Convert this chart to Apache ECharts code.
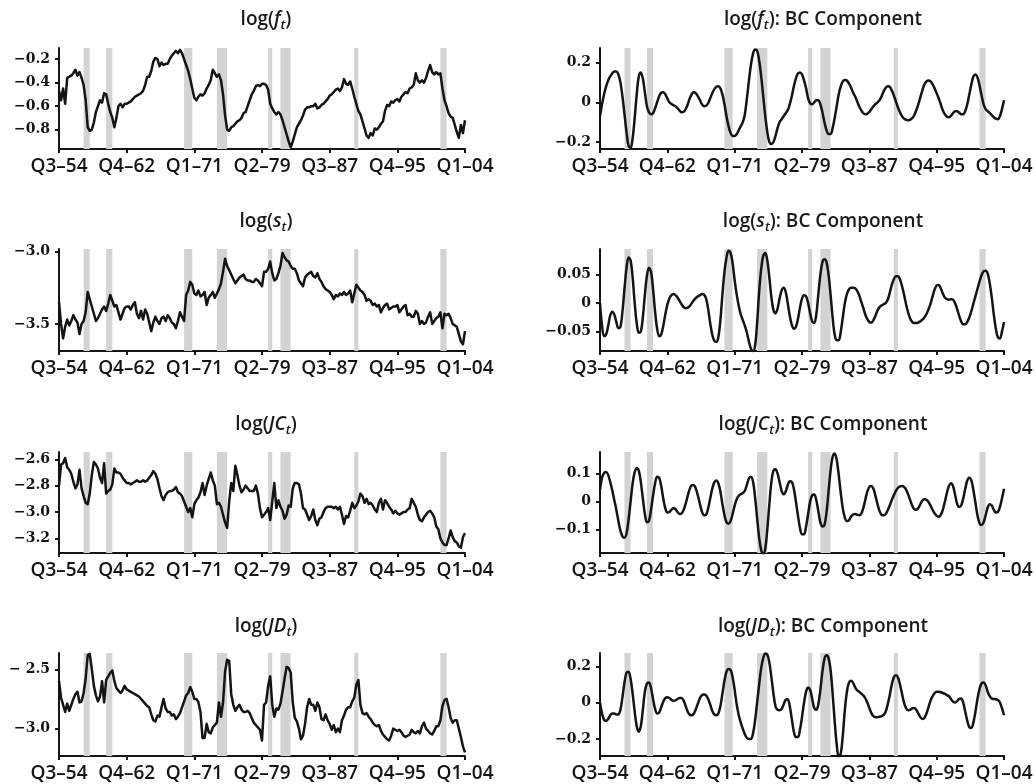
<!DOCTYPE html>
<html>
<head>
<meta charset="utf-8">
<script src="https://cdn.jsdelivr.net/npm/echarts@6/dist/echarts.min.js"></script>
<style>
  html, body { margin: 0; padding: 0; background: #ffffff; }
  #chart { width: 1036px; height: 784px; }
</style>
</head>
<body>
<div id="chart"></div>
<script>
// Quarterly series, 1954Q3 .. 2004Q1 (199 quarters)
const fLevel = [
  -0.47,-0.55,-0.45,-0.58,-0.36,-0.35,-0.34,-0.32,-0.29,-0.34,
  -0.31,-0.36,-0.42,-0.55,-0.78,-0.81,-0.80,-0.74,-0.65,-0.60,
  -0.55,-0.57,-0.49,-0.50,-0.58,-0.65,-0.70,-0.78,-0.70,-0.60,
  -0.58,-0.61,-0.58,-0.58,-0.57,-0.56,-0.54,-0.52,-0.51,-0.50,
  -0.49,-0.47,-0.42,-0.35,-0.35,-0.30,-0.22,-0.19,-0.20,-0.26,
  -0.23,-0.25,-0.24,-0.24,-0.20,-0.17,-0.15,-0.13,-0.15,-0.12,
  -0.15,-0.20,-0.25,-0.30,-0.37,-0.45,-0.53,-0.55,-0.52,-0.50,
  -0.51,-0.49,-0.45,-0.42,-0.38,-0.29,-0.32,-0.35,-0.33,-0.38,
  -0.50,-0.68,-0.80,-0.81,-0.78,-0.77,-0.75,-0.73,-0.72,-0.70,
  -0.66,-0.65,-0.60,-0.55,-0.50,-0.47,-0.43,-0.42,-0.43,-0.41,
  -0.41,-0.42,-0.46,-0.58,-0.62,-0.65,-0.67,-0.65,-0.67,-0.72,
  -0.78,-0.84,-0.90,-0.95,-0.90,-0.84,-0.78,-0.75,-0.72,-0.68,
  -0.63,-0.61,-0.61,-0.60,-0.60,-0.58,-0.62,-0.61,-0.59,-0.58,
  -0.56,-0.54,-0.51,-0.50,-0.48,-0.46,-0.45,-0.47,-0.44,-0.37,
  -0.41,-0.42,-0.39,-0.45,-0.52,-0.58,-0.64,-0.67,-0.73,-0.79,
  -0.85,-0.87,-0.83,-0.85,-0.79,-0.80,-0.78,-0.75,-0.73,-0.64,
  -0.59,-0.60,-0.56,-0.57,-0.55,-0.54,-0.56,-0.52,-0.50,-0.48,
  -0.49,-0.45,-0.44,-0.42,-0.32,-0.38,-0.40,-0.38,-0.40,-0.36,
  -0.30,-0.25,-0.31,-0.33,-0.31,-0.33,-0.32,-0.45,-0.55,-0.60,
  -0.66,-0.69,-0.70,-0.76,-0.82,-0.87,-0.76,-0.83,-0.72
];
const fCycle = [
  -0.07,-0.01,0.04,0.08,0.11,0.13,0.145,0.155,0.155,0.14,
  0.10,0.03,-0.06,-0.15,-0.22,-0.23,-0.18,-0.08,0.04,0.13,
  0.15,0.12,0.05,-0.02,-0.05,-0.06,-0.055,-0.03,0.00,0.03,
  0.048,0.05,0.04,0.02,0.00,-0.008,-0.015,-0.02,-0.03,-0.042,
  -0.05,-0.048,-0.035,-0.01,0.02,0.042,0.05,0.045,0.03,0.01,
  -0.01,-0.02,-0.018,-0.005,0.02,0.045,0.065,0.078,0.08,0.07,
  0.04,-0.01,-0.07,-0.12,-0.155,-0.17,-0.17,-0.16,-0.14,-0.12,
  -0.10,-0.06,0.02,0.11,0.19,0.245,0.265,0.26,0.21,0.13,
  0.03,-0.07,-0.15,-0.20,-0.21,-0.20,-0.17,-0.13,-0.10,-0.085,
  -0.07,-0.055,-0.04,-0.01,0.03,0.08,0.12,0.145,0.15,0.14,
  0.11,0.07,0.02,-0.005,-0.01,0.00,0.01,0.01,-0.01,-0.05,
  -0.10,-0.14,-0.16,-0.16,-0.13,-0.08,-0.02,0.04,0.08,0.105,
  0.112,0.11,0.095,0.075,0.05,0.03,0.005,-0.02,-0.04,-0.055,
  -0.06,-0.058,-0.048,-0.035,-0.02,-0.01,0.0,0.01,0.03,0.055,
  0.072,0.08,0.078,0.06,0.035,0.005,-0.025,-0.05,-0.07,-0.082,
  -0.088,-0.09,-0.088,-0.08,-0.065,-0.04,-0.01,0.025,0.06,0.09,
  0.105,0.11,0.105,0.09,0.07,0.045,0.02,-0.01,-0.04,-0.06,
  -0.073,-0.075,-0.068,-0.055,-0.045,-0.045,-0.052,-0.06,-0.06,-0.045,
  -0.01,0.04,0.09,0.13,0.14,0.125,0.085,0.035,-0.01,-0.035,
  -0.045,-0.055,-0.065,-0.075,-0.082,-0.085,-0.07,-0.035,0.01
];
const sLevel = [
  -3.35,-3.50,-3.60,-3.52,-3.47,-3.51,-3.48,-3.44,-3.47,-3.49,
  -3.57,-3.50,-3.48,-3.42,-3.28,-3.33,-3.38,-3.43,-3.48,-3.46,
  -3.43,-3.40,-3.38,-3.41,-3.36,-3.30,-3.34,-3.38,-3.37,-3.42,
  -3.47,-3.43,-3.39,-3.38,-3.38,-3.40,-3.37,-3.35,-3.43,-3.46,
  -3.41,-3.47,-3.40,-3.43,-3.49,-3.55,-3.49,-3.45,-3.48,-3.50,
  -3.46,-3.45,-3.48,-3.44,-3.46,-3.49,-3.50,-3.53,-3.48,-3.42,
  -3.45,-3.48,-3.30,-3.27,-3.21,-3.23,-3.29,-3.30,-3.27,-3.31,
  -3.30,-3.28,-3.37,-3.32,-3.30,-3.28,-3.32,-3.29,-3.26,-3.22,
  -3.14,-3.05,-3.10,-3.13,-3.16,-3.19,-3.22,-3.20,-3.18,-3.17,
  -3.16,-3.19,-3.20,-3.20,-3.21,-3.21,-3.19,-3.20,-3.22,-3.24,
  -3.14,-3.14,-3.12,-3.07,-3.15,-3.20,-3.19,-3.15,-3.10,-3.01,
  -3.04,-3.06,-3.07,-3.10,-3.12,-3.12,-3.15,-3.20,-3.22,-3.24,
  -3.18,-3.16,-3.15,-3.14,-3.17,-3.18,-3.15,-3.19,-3.21,-3.24,
  -3.26,-3.27,-3.28,-3.30,-3.33,-3.30,-3.31,-3.29,-3.30,-3.28,
  -3.30,-3.29,-3.27,-3.35,-3.29,-3.23,-3.25,-3.27,-3.28,-3.30,
  -3.34,-3.33,-3.34,-3.37,-3.36,-3.38,-3.37,-3.42,-3.39,-3.37,
  -3.36,-3.40,-3.39,-3.38,-3.38,-3.37,-3.42,-3.40,-3.38,-3.37,
  -3.44,-3.43,-3.45,-3.45,-3.41,-3.43,-3.50,-3.48,-3.50,-3.49,
  -3.45,-3.42,-3.50,-3.48,-3.46,-3.45,-3.42,-3.53,-3.43,-3.44,
  -3.43,-3.46,-3.50,-3.51,-3.52,-3.57,-3.62,-3.64,-3.55
];
const sCycle = [
  0.0,-0.04,-0.058,-0.055,-0.04,-0.022,-0.015,-0.02,-0.033,-0.044,
  -0.042,-0.015,0.025,0.062,0.08,0.075,0.045,0.0,-0.035,-0.052,
  -0.05,-0.025,0.015,0.048,0.062,0.055,0.025,-0.015,-0.045,-0.058,
  -0.055,-0.04,-0.02,-0.003,0.008,0.014,0.016,0.014,0.01,0.004,
  -0.002,-0.007,-0.009,-0.008,-0.005,0.0,0.005,0.009,0.012,0.014,
  0.016,0.015,0.008,-0.01,-0.035,-0.055,-0.066,-0.068,-0.06,-0.03,
  0.015,0.055,0.08,0.092,0.088,0.07,0.04,0.015,-0.005,-0.02,
  -0.03,-0.04,-0.052,-0.068,-0.08,-0.085,-0.075,-0.035,0.02,0.06,
  0.083,0.088,0.075,0.045,0.01,-0.012,-0.018,-0.01,0.008,0.022,
  0.027,0.02,0.0,-0.022,-0.038,-0.045,-0.042,-0.028,-0.008,0.008,
  0.014,0.012,0.0,-0.018,-0.032,-0.035,-0.02,0.015,0.05,0.072,
  0.077,0.072,0.05,0.015,-0.025,-0.055,-0.065,-0.065,-0.05,-0.025,
  0.0,0.016,0.024,0.027,0.027,0.026,0.022,0.014,0.003,-0.008,
  -0.02,-0.028,-0.033,-0.034,-0.03,-0.022,-0.013,-0.007,-0.004,-0.002,
  0.0,0.006,0.018,0.032,0.042,0.047,0.047,0.042,0.03,0.015,
  -0.002,-0.016,-0.027,-0.033,-0.035,-0.035,-0.034,-0.032,-0.029,-0.025,
  -0.019,-0.011,-0.001,0.012,0.024,0.031,0.032,0.026,0.017,0.01,
  0.007,0.006,0.007,0.006,0.0,-0.01,-0.022,-0.032,-0.037,-0.037,
  -0.033,-0.025,-0.014,-0.001,0.012,0.025,0.038,0.049,0.056,0.057,
  0.052,0.035,0.01,-0.02,-0.045,-0.06,-0.062,-0.05,-0.033
];
const jcLevel = [
  -2.80,-2.64,-2.63,-2.59,-2.66,-2.68,-2.71,-2.77,-2.82,-2.79,
  -2.68,-2.82,-2.88,-2.93,-2.94,-2.86,-2.72,-2.62,-2.64,-2.67,
  -2.74,-2.78,-2.63,-2.86,-2.84,-2.83,-2.79,-2.67,-2.70,-2.70,
  -2.71,-2.74,-2.76,-2.78,-2.78,-2.79,-2.78,-2.77,-2.76,-2.77,
  -2.77,-2.76,-2.77,-2.76,-2.74,-2.72,-2.69,-2.71,-2.75,-2.82,
  -2.88,-2.91,-2.87,-2.85,-2.84,-2.84,-2.83,-2.81,-2.85,-2.86,
  -2.88,-2.92,-2.96,-3.00,-2.97,-3.04,-2.94,-2.91,-2.89,-2.85,
  -2.78,-2.87,-2.80,-2.75,-2.70,-2.76,-2.80,-2.94,-2.93,-2.96,
  -3.02,-3.08,-3.12,-2.92,-2.78,-2.84,-2.65,-2.72,-2.80,-2.85,
  -2.83,-2.80,-2.82,-2.84,-2.84,-2.84,-2.80,-2.86,-2.97,-3.04,
  -3.02,-3.00,-2.97,-3.06,-2.92,-2.78,-2.97,-2.91,-2.96,-2.99,
  -3.05,-3.02,-2.95,-2.96,-2.82,-2.78,-2.78,-2.79,-2.86,-2.97,
  -2.98,-3.02,-3.06,-3.03,-2.98,-3.06,-3.10,-3.05,-3.04,-3.00,
  -2.97,-2.96,-2.96,-2.96,-2.97,-2.96,-2.98,-2.96,-3.02,-3.09,
  -3.03,-3.04,-2.99,-2.93,-2.97,-2.95,-2.92,-2.86,-2.88,-2.93,
  -2.90,-2.94,-2.93,-2.95,-2.98,-3.00,-2.93,-2.90,-2.98,-2.91,
  -2.93,-2.96,-2.98,-3.01,-2.99,-3.01,-3.02,-3.01,-3.00,-3.00,
  -2.98,-2.97,-2.90,-2.93,-2.96,-3.02,-3.06,-3.07,-3.04,-3.02,
  -3.00,-2.99,-3.01,-3.04,-3.11,-3.13,-3.20,-3.23,-3.25,-3.25,
  -3.20,-3.14,-3.19,-3.22,-3.23,-3.26,-3.27,-3.19,-3.16
];
const jcCycle = [
  0.04,0.085,0.102,0.105,0.095,0.07,0.04,0.005,-0.03,-0.07,
  -0.105,-0.125,-0.13,-0.115,-0.065,0.0,0.065,0.105,0.12,0.11,
  0.07,0.01,-0.045,-0.075,-0.07,-0.03,0.02,0.065,0.088,0.085,
  0.055,0.01,-0.025,-0.04,-0.038,-0.03,-0.025,-0.028,-0.038,-0.045,
  -0.043,-0.03,-0.008,0.02,0.045,0.058,0.058,0.045,0.02,-0.01,
  -0.038,-0.05,-0.048,-0.025,0.01,0.045,0.068,0.075,0.065,0.035,
  -0.01,-0.05,-0.075,-0.08,-0.07,-0.045,-0.015,0.008,0.02,0.026,
  0.03,0.038,0.06,0.082,0.088,0.07,0.015,-0.06,-0.13,-0.175,
  -0.19,-0.17,-0.1,-0.01,0.07,0.11,0.115,0.1,0.07,0.038,
  0.026,0.035,0.058,0.072,0.07,0.045,0.0,-0.05,-0.095,-0.118,
  -0.118,-0.09,-0.045,0.0,0.022,0.025,0.005,-0.035,-0.075,-0.09,
  -0.085,-0.04,0.035,0.11,0.16,0.172,0.15,0.095,0.03,-0.025,
  -0.058,-0.07,-0.068,-0.055,-0.047,-0.045,-0.048,-0.05,-0.045,-0.025,
  0.005,0.035,0.052,0.055,0.045,0.02,-0.01,-0.035,-0.048,-0.05,
  -0.045,-0.032,-0.015,0.005,0.022,0.038,0.048,0.054,0.055,0.052,
  0.042,0.025,0.005,-0.015,-0.028,-0.03,-0.024,-0.01,0.003,0.008,
  0.006,-0.002,-0.015,-0.03,-0.043,-0.052,-0.055,-0.048,-0.03,-0.002,
  0.03,0.055,0.065,0.055,0.025,-0.008,-0.02,-0.015,0.01,0.045,
  0.075,0.085,0.075,0.04,-0.005,-0.05,-0.078,-0.085,-0.075,-0.05,
  -0.022,-0.01,-0.015,-0.03,-0.04,-0.038,-0.02,0.01,0.045
];
const jdLevel = [
  -2.60,-2.74,-2.80,-2.86,-2.79,-2.85,-2.80,-2.75,-2.71,-2.69,
  -2.78,-2.77,-2.70,-2.58,-2.38,-2.37,-2.50,-2.64,-2.72,-2.77,
  -2.73,-2.60,-2.78,-2.59,-2.56,-2.53,-2.51,-2.60,-2.66,-2.68,
  -2.70,-2.68,-2.64,-2.67,-2.68,-2.69,-2.70,-2.71,-2.72,-2.73,
  -2.75,-2.77,-2.79,-2.81,-2.82,-2.88,-2.93,-2.94,-2.89,-2.90,
  -2.82,-2.75,-2.83,-2.86,-2.86,-2.89,-2.88,-2.92,-2.90,-2.87,
  -2.82,-2.77,-2.72,-2.70,-2.65,-2.69,-2.75,-2.75,-2.78,-2.86,
  -3.08,-3.08,-2.96,-3.03,-3.04,-2.99,-2.97,-2.95,-2.78,-2.90,
  -2.78,-2.52,-2.42,-2.43,-2.71,-2.80,-2.85,-2.82,-2.80,-2.84,
  -2.86,-2.86,-2.85,-2.87,-2.91,-2.95,-2.97,-2.99,-3.01,-3.10,
  -2.80,-2.78,-2.64,-2.56,-2.80,-2.90,-2.83,-2.84,-2.79,-2.69,
  -2.58,-2.48,-2.49,-2.53,-2.78,-2.91,-2.94,-3.00,-3.09,-3.06,
  -2.96,-2.82,-2.75,-2.80,-2.80,-2.85,-2.78,-2.82,-2.92,-2.93,
  -2.88,-2.93,-2.96,-3.01,-2.97,-3.03,-3.00,-3.03,-2.93,-2.89,
  -2.84,-2.82,-2.82,-2.77,-2.74,-2.63,-2.59,-2.80,-2.87,-2.88,
  -2.87,-2.90,-2.92,-2.95,-2.97,-2.98,-2.97,-3.02,-3.05,-3.07,
  -3.09,-3.10,-3.06,-3.00,-3.01,-3.02,-3.01,-3.03,-3.06,-3.07,
  -3.06,-3.05,-3.01,-3.03,-3.04,-3.02,-3.04,-2.98,-2.95,-3.00,
  -3.02,-3.04,-3.05,-3.02,-2.98,-2.98,-2.93,-2.81,-2.76,-2.75,
  -2.82,-2.91,-2.95,-2.93,-2.93,-3.00,-3.07,-3.15,-3.20
];
const jdCycle = [
  0.0,-0.06,-0.095,-0.1,-0.09,-0.07,-0.06,-0.06,-0.065,-0.065,
  -0.04,0.03,0.11,0.165,0.17,0.13,0.05,-0.05,-0.13,-0.16,
  -0.13,-0.04,0.06,0.105,0.11,0.08,0.02,-0.035,-0.06,-0.055,
  -0.025,0.005,0.025,0.03,0.025,0.015,0.01,0.012,0.02,0.025,
  0.025,0.01,-0.02,-0.05,-0.067,-0.07,-0.06,-0.035,-0.005,0.025,
  0.042,0.045,0.04,0.02,-0.01,-0.045,-0.065,-0.07,-0.06,-0.02,
  0.05,0.12,0.17,0.185,0.18,0.14,0.07,-0.01,-0.07,-0.11,
  -0.145,-0.175,-0.195,-0.2,-0.2,-0.17,-0.1,0.0,0.1,0.19,
  0.245,0.27,0.265,0.22,0.14,0.05,-0.02,-0.04,-0.042,-0.035,
  -0.01,0.015,0.018,-0.02,-0.09,-0.16,-0.19,-0.19,-0.15,-0.08,
  0.0,0.06,0.083,0.07,0.02,-0.03,-0.04,-0.01,0.07,0.17,
  0.24,0.26,0.245,0.18,0.05,-0.1,-0.23,-0.3,-0.28,-0.18,
  -0.04,0.06,0.11,0.12,0.11,0.085,0.068,0.06,0.05,0.04,
  0.025,0.0,-0.03,-0.058,-0.075,-0.08,-0.08,-0.078,-0.074,-0.068,
  -0.05,-0.01,0.04,0.1,0.14,0.15,0.14,0.1,0.05,0.0,
  -0.03,-0.042,-0.04,-0.032,-0.03,-0.04,-0.06,-0.08,-0.09,-0.085,
  -0.06,-0.025,0.01,0.035,0.052,0.06,0.06,0.057,0.053,0.048,
  0.042,0.035,0.02,0.005,0.0,0.008,0.02,0.022,0.0,-0.05,
  -0.1,-0.135,-0.14,-0.11,-0.05,0.02,0.075,0.105,0.11,0.095,
  0.06,0.035,0.022,0.02,0.018,0.015,0.0,-0.03,-0.07
];

// Time axis: first quarter and number of quarters
const firstYear = 1954;
const firstQuarter = 3;
const quarterCount = 199;
const xTickLabels = ['Q3–54', 'Q4–62', 'Q1–71', 'Q2–79', 'Q3–87', 'Q4–95', 'Q1–04'];

// Recession spans (peak quarter, trough quarter)
const recessions = [
  ['Q3–57', 'Q2–58'], ['Q2–60', 'Q1–61'], ['Q4–69', 'Q4–70'], ['Q4–73', 'Q1–75'],
  ['Q1–80', 'Q3–80'], ['Q3–81', 'Q4–82'], ['Q3–90', 'Q1–91'], ['Q1–01', 'Q4–01']
];

// Y-axis ticks and their printed labels
const fLevelTicks = [-0.8, -0.6, -0.4, -0.2];
const fLevelTickLabels = ['−0.8', '−0.6', '−0.4', '−0.2'];
const fCycleTicks = [-0.2, 0, 0.2];
const fCycleTickLabels = ['−0.2', '0', '0.2'];
const sLevelTicks = [-3.5, -3.0];
const sLevelTickLabels = ['−3.5', '−3.0'];
const sCycleTicks = [-0.05, 0, 0.05];
const sCycleTickLabels = ['−0.05', '0', '0.05'];
const jcLevelTicks = [-3.2, -3.0, -2.8, -2.6];
const jcLevelTickLabels = ['−3.2', '−3.0', '−2.8', '−2.6'];
const jcCycleTicks = [-0.1, 0, 0.1];
const jcCycleTickLabels = ['−0.1', '0', '0.1'];
const jdLevelTicks = [-3.0, -2.5];
const jdLevelTickLabels = ['−3.0', '− 2.5'];
const jdCycleTicks = [-0.2, 0, 0.2];
const jdCycleTickLabels = ['−0.2', '0', '0.2'];

function buildCategories() {
  const out = [];
  let y = firstYear, q = firstQuarter;
  for (let i = 0; i < quarterCount; i++) {
    out.push('Q' + q + '–' + String(y % 100).padStart(2, '0'));
    q++;
    if (q > 4) { q = 1; y++; }
  }
  return out;
}
const categories = buildCategories();

const panels = [
  { name: 'f', cycle: false, data: fLevel, min: -0.965, max: -0.105, ticks: fLevelTicks, labels: fLevelTickLabels },
  { name: 'f', cycle: true, data: fCycle, min: -0.235, max: 0.273, ticks: fCycleTicks, labels: fCycleTickLabels },
  { name: 's', cycle: false, data: sLevel, min: -3.687, max: -2.983, ticks: sLevelTicks, labels: sLevelTickLabels },
  { name: 's', cycle: true, data: sCycle, min: -0.084, max: 0.095, ticks: sCycleTicks, labels: sCycleTickLabels },
  { name: 'JC', cycle: false, data: jcLevel, min: -3.31, max: -2.545, ticks: jcLevelTicks, labels: jcLevelTickLabels },
  { name: 'JC', cycle: true, data: jcCycle, min: -0.185, max: 0.177, ticks: jcCycleTicks, labels: jcCycleTickLabels },
  { name: 'JD', cycle: false, data: jdLevel, min: -3.231, max: -2.363, ticks: jdLevelTicks, labels: jdLevelTickLabels },
  { name: 'JD', cycle: true, data: jdCycle, min: -0.294, max: 0.273, ticks: jdCycleTicks, labels: jdCycleTickLabels }
];

// Layout
const colLeft = [59, 600];
const colWidth = [406, 404];
const rowTop = [48, 249, 452, 653];
const rowHeight = [101, 102, 101, 103];
const titleX = [266, 823];
const titleY = [20, 222, 425, 627];

const ink = '#141414';
const shade = '#d3d3d3';
const sansFont = '"Open Sans", "Lato", sans-serif';
const serifFont = '"DejaVu Serif", serif';

const grids = [], xAxes = [], yAxes = [], series = [], graphics = [];

panels.forEach((p, k) => {
  const col = k % 2, row = Math.floor(k / 2);
  grids.push({ left: colLeft[col], top: rowTop[row], width: colWidth[col], height: rowHeight[row], containLabel: false });

  const showTick = (idx, value) => xTickLabels.indexOf(value) >= 0;
  xAxes.push({
    type: 'category', gridIndex: k, data: categories, boundaryGap: false,
    axisLine: { onZero: false, lineStyle: { color: ink, width: 2 } },
    axisTick: { show: true, interval: showTick, length: 4, lineStyle: { color: ink, width: 2 } },
    axisLabel: { interval: showTick, margin: 8, color: ink, fontFamily: sansFont, fontWeight: 600, fontSize: 19 },
    splitLine: { show: false }
  });

  const fmt = (v) => {
    let best = 0, bd = Infinity;
    p.ticks.forEach((t, j) => { const d = Math.abs(t - v); if (d < bd) { bd = d; best = j; } });
    return p.labels[best];
  };
  yAxes.push({
    type: 'value', gridIndex: k, min: p.min, max: p.max, scale: true,
    axisLine: { show: true, onZero: false, lineStyle: { color: ink, width: 2 } },
    axisTick: { show: true, length: 4, customValues: p.ticks, lineStyle: { color: ink, width: 2 } },
    axisLabel: { customValues: p.ticks, formatter: fmt, margin: 9, color: ink, fontFamily: serifFont, fontWeight: 'bold', fontSize: 14 },
    splitLine: { show: false }
  });

  // recession shading
  series.push({
    type: 'line', xAxisIndex: k, yAxisIndex: k, data: [], z: 1, silent: true,
    markArea: {
      silent: true,
      itemStyle: { color: shade, opacity: 1 },
      data: recessions.map(([a, b]) => [{ xAxis: a }, { xAxis: b }])
    }
  });
  series.push({
    type: 'line', xAxisIndex: k, yAxisIndex: k, data: p.data, z: 3,
    showSymbol: false, symbol: 'none', smooth: p.cycle ? 0.35 : false,
    lineStyle: { color: ink, width: 2.5, join: 'round' },
    silent: true
  });

  // panel heading: log(name_t) with italic symbol and subscript t
  const text = '{n|log(}{i|' + p.name + '}{s|t}{n|)' + (p.cycle ? ': BC Component' : '') + '}';
  graphics.push({
    type: 'text', x: titleX[col], y: titleY[row], silent: true,
    style: {
      text: text, align: 'center', verticalAlign: 'middle',
      rich: {
        n: { fontFamily: sansFont, fontWeight: 600, fontSize: 19, lineHeight: 24, fill: '#1a1a1a' },
        i: { fontFamily: sansFont, fontWeight: 600, fontStyle: 'italic', fontSize: 19, lineHeight: 24, fill: '#1a1a1a' },
        s: { fontFamily: sansFont, fontWeight: 600, fontStyle: 'italic', fontSize: 13, lineHeight: 13, verticalAlign: 'bottom', fill: '#1a1a1a' }
      }
    }
  });
});

const chart = echarts.init(document.getElementById('chart'), null, { renderer: 'canvas' });
chart.setOption({
  backgroundColor: '#ffffff',
  animation: false,
  grid: grids,
  xAxis: xAxes,
  yAxis: yAxes,
  series: series,
  graphic: graphics
});
</script>
</body>
</html>
